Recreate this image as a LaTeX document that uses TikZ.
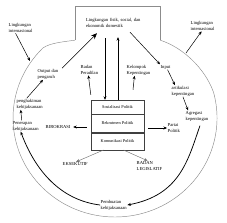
\documentclass[tikz,border=0pt]{standalone}
\usepackage{fontspec}
\setmainfont{Liberation Serif}
\usetikzlibrary{arrows.meta}
\usetikzlibrary{positioning}
\tikzset{
lbl/.style={
	font=\fontsize{4.6}{6}\selectfont,
	align=left,
	anchor=west,
	inner sep=0.5pt
},
rowbox/.style={
	rectangle,
	draw=black!75,
	line width=0.4pt,
	minimum width=53pt,
	text centered,
	inner sep=0pt,
	font=\fontsize{4.3}{5}\selectfont
},
envline/.style={
	draw=black!45,
	line width=0.45pt
},
arrow/.style={
	-{Stealth[length=3.5pt,width=3pt]},
	draw=black,
	line width=0.5pt
},
bigarrow/.style={
	-{Stealth[length=6pt,width=5pt]},
	draw=black,
	line width=0.6pt
},
grayarrow/.style={
	-{Stealth[length=3.5pt,width=3pt]},
	draw=black!55,
	line width=0.45pt
},
flow/.style={
	-{Stealth[length=3.5pt,width=3pt]},
	draw=black,
	line width=0.75pt
}
}

\begin{document}
\begin{tikzpicture}[x=1pt, y=-1pt]
\useasboundingbox (0,0) rectangle (227,222);

% environment
\node (Domestik) [lbl, anchor=center, minimum width=85pt, minimum height=34pt,
  text width=63pt, inner xsep=11pt, inner ysep=0pt] at (117.5,23)
  {Lingkungan fisik, sosial, dan\\ ekonomik domestik};
\node (LingkKiri) [lbl] at (8,28) {Lingkungan\\internasional};
\node (LingkKanan) [lbl] at (190,26) {Lingkungan\\internasional};
\coordinate (inKiri) at (30,61);
\coordinate (outKanan) at (186,53);

% political system box
\node (Sosialisasi) [rowbox, minimum height=14pt] at (117.5,107) {Sosialisasi Politik};
\node (Rekrutmen) [rowbox, minimum height=18pt, below=0pt of Sosialisasi] {Rekrutmen Politik};
\node (Komunikasi) [rowbox, minimum height=17pt, below=0pt of Rekrutmen] {Komunikasi Politik};

% labels round the box
\node (Output) [lbl] at (37,74) {Output dan\\pengaruh};
\node (Peradilan) [lbl] at (80,70) {Badan\\Peradilan};
\node (Kelompok) [lbl] at (126,70) {Kelompok\\Kepentingan};
\node (Input) [lbl] at (160,67) {Input};
\node (Artikulasi) [lbl] at (171,91) {artikulasi\\kepentingan};
\node (Agregasi) [lbl] at (185,116) {Agregasi\\kepentingan};
\node (Partai) [lbl] at (167,128) {Partai\\Politik};
\node (Birokrasi) [lbl] at (45,127) {BIROKRASI};
\node (Penerapan) [lbl] at (12,126) {Penerapan\\kebijaksanaan};
\node (Penghakiman) [lbl] at (16,104) {penghakiman\\kebijaksanaan};
\node (Eksekutif) [lbl] at (62,164) {EKSEKUTIF};
\node (Legislatif) [lbl] at (136,166) {BADAN\\LEGISLATIF};
\node (Pembuatan) [lbl] at (100,205) {Pembuatan\\kebijaksanaan};

% outline of the environment
\draw[envline] (Domestik.south west) |- (Domestik.north east) -- (Domestik.south east);
\draw[envline] (Domestik.south west) .. controls (62,42) and (50,43) .. (42.9,48)
  arc[start angle=225, end angle=-15, x radius=102, y radius=99]
  .. controls (205,68) and (182,47) .. (Domestik.south east);

% international environment
\draw[arrow] ([xshift=-5pt]LingkKiri.south) -- (inKiri);
\draw[arrow] (outKanan) -- ([xshift=-1pt]LingkKanan.south);

% domestic environment <-> box
\draw[arrow] ([xshift=-12.5pt,yshift=2pt]Domestik.south) -- ([xshift=-12.5pt]Sosialisasi.north);
\draw[arrow] ([xshift=0.5pt]Sosialisasi.north) -- ([xshift=0.5pt,yshift=3pt]Domestik.south);
\draw[bigarrow] ([xshift=3pt]Output.north east) -- ([xshift=-20.5pt,yshift=7pt]Domestik.south);
\draw[arrow] ([xshift=12.5pt,yshift=8pt]Domestik.south) -- (Input.north west);

% input side
\draw[arrow] ([yshift=5pt]Sosialisasi.north west) -- ([xshift=-1pt]Peradilan.south);
\draw[arrow] ([xshift=15.5pt,yshift=10pt]Sosialisasi.north) -- ([xshift=-4pt]Kelompok.south);
\draw[arrow] ([xshift=2pt]Input.south) -- ([xshift=4pt]Artikulasi.north west);
\draw[arrow] (Artikulasi.south) -- ([xshift=3pt]Agregasi.north west);
\draw[arrow, shorten <=4pt] (Rekrutmen.east |- Partai.west) -- (Partai.west);

% output side
\draw[arrow, shorten <=4pt] (Rekrutmen.west |- Birokrasi.east) -- ([xshift=2pt]Birokrasi.east);
\draw[grayarrow] ([xshift=-14pt]Komunikasi.south) -- ([xshift=1pt]Eksekutif.north);
\draw[grayarrow] ([xshift=6pt]Komunikasi.south) -- ([xshift=-2pt]Legislatif.north);
\draw[arrow] ([xshift=-4pt]Penerapan.north) -- ([xshift=-9pt]Penghakiman.south);
\draw[arrow] ([xshift=-3pt]Penghakiman.north) -- ([xshift=6pt]Output.south west);

% policy cycle
\draw[flow] ([xshift=3pt,yshift=-4pt]Agregasi.south) .. controls (188,160) and (180,195) .. (Pembuatan.east);
\draw[flow] (Pembuatan.west) .. controls (60,200) and (35,170) .. ([xshift=-5pt]Penerapan.south);

\end{tikzpicture}
\end{document}
